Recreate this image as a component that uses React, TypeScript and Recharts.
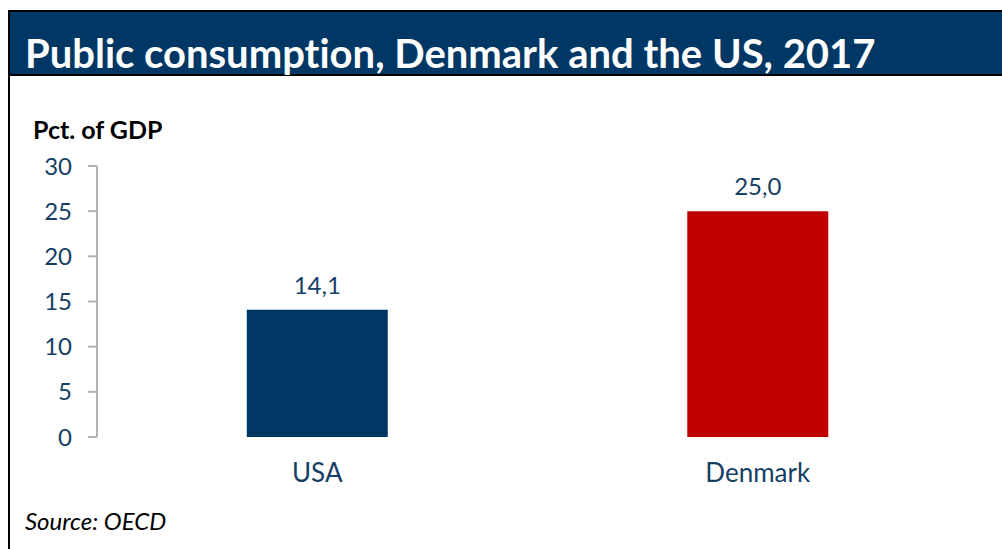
import React from 'react';
import { BarChart, Bar, XAxis, YAxis, LabelList, Cell } from 'recharts';

const countries = ['USA', 'Denmark'];
const consumption = [14.1, 25.0];
const barColors = ['#003764', '#c00000'];
const yTicks = [0, 5, 10, 15, 20, 25, 30];
const boundaryTicks = [0, 1, 2];

const data = countries.map((name, i) => ({ name, value: consumption[i], pos: i }));

const navy = '#003764';
const textBlue = '#163f66';
const axisGray = '#b3b3b3';
const font = 'Lato, "Open Sans", sans-serif';

const fmt = (v: number) => v.toFixed(1).replace('.', ',');

export default function App() {
  return (
    <div style={{ position: 'absolute', left: 0, top: 0, width: 1002, height: 549, overflow: 'hidden', background: '#fff', fontFamily: font, fontVariantLigatures: 'none' }}>
      {/* frame + title bar */}
      <div style={{ position: 'absolute', left: 8, top: 10, width: 1100, height: 600, border: '2px solid #000', boxSizing: 'border-box' }} />
      <div style={{ position: 'absolute', left: 10, top: 12, width: 1100, height: 62, background: navy, borderBottom: '2px solid #000' }} />

      <div style={{ position: 'absolute', left: 0, top: 0 }}>
        <BarChart
          width={1002}
          height={549}
          data={data}
          margin={{ top: 166, right: 24, bottom: 0, left: 0 }}
          barCategoryGap="34%"
        >
          <XAxis
            xAxisId="edges"
            type="number"
            dataKey="pos"
            domain={[0, 2]}
            ticks={boundaryTicks}
            height={0}
            tick={false}
            tickSize={9}
            tickLine={{ stroke: axisGray, strokeWidth: 2 }}
            axisLine={{ stroke: axisGray, strokeWidth: 2 }}
          />
          <XAxis
            dataKey="name"
            height={112}
            axisLine={false}
            tickLine={false}
            tickMargin={21}
            tick={{ fill: textBlue, fontSize: 26, fontFamily: font }}
          />
          <YAxis
            width={97}
            domain={[0, 30]}
            ticks={yTicks}
            interval={0}
            tickSize={9}
            tickMargin={16}
            axisLine={{ stroke: axisGray, strokeWidth: 2 }}
            tickLine={{ stroke: axisGray, strokeWidth: 2 }}
            tick={{ fill: textBlue, fontSize: 24, fontFamily: font }}
          />
          <Bar dataKey="value" isAnimationActive={false}>
            {data.map((d, i) => (
              <Cell key={d.name} fill={barColors[i]} />
            ))}
            <LabelList
              dataKey="value"
              position="top"
              offset={16}
              formatter={(v: any) => fmt(Number(v))}
              style={{ fill: textBlue, fontSize: 24, fontFamily: font }}
            />
          </Bar>
        </BarChart>
      </div>

      <svg width={1002} height={549} style={{ position: 'absolute', left: 0, top: 0, pointerEvents: 'none', fontVariantLigatures: 'none' }}>
        <text x={25} y={68} fill="#fff" fontSize={40} fontWeight={700} fontFamily={font}>
          Public consumption, Denmark and the US, 2017
        </text>
        <text x={33} y={139} fill="#000" fontSize={25} fontWeight={700} fontFamily={font}>
          Pct. of GDP
        </text>
        <text x={25} y={530} fill="#000" fontSize={24} fontStyle="italic" fontFamily={font}>
          Source: OECD
        </text>
      </svg>
    </div>
  );
}
